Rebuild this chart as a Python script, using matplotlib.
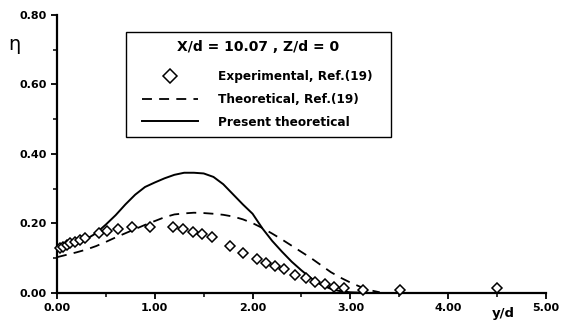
import matplotlib
matplotlib.use('Agg')
import matplotlib.pyplot as plt
from matplotlib.patches import Rectangle

# Experimental, Ref.(19)
exp_x = [0.03, 0.06, 0.10, 0.13, 0.18, 0.24, 0.29, 0.43, 0.51, 0.62, 0.77, 0.95,
         1.19, 1.29, 1.39, 1.48, 1.59, 1.77, 1.90, 2.05, 2.14, 2.23, 2.32, 2.43,
         2.55, 2.64, 2.74, 2.83, 2.93, 3.13, 3.51, 4.50]
exp_y = [0.130, 0.133, 0.138, 0.144, 0.148, 0.153, 0.158, 0.172, 0.178, 0.184, 0.189, 0.189,
         0.191, 0.184, 0.175, 0.170, 0.160, 0.135, 0.114, 0.097, 0.087, 0.078, 0.068, 0.052,
         0.042, 0.033, 0.025, 0.018, 0.014, 0.009, 0.009, 0.013]

# Theoretical, Ref.(19)
ref_x = [0.0, 0.1, 0.2, 0.3, 0.4, 0.5, 0.6, 0.7, 0.8, 0.9, 1.0, 1.1, 1.2, 1.3, 1.4,
         1.5, 1.6, 1.7, 1.8, 1.9, 2.0, 2.1, 2.2, 2.3, 2.4, 2.5, 2.6, 2.7, 2.8, 2.9,
         3.0, 3.1, 3.2, 3.3]
ref_y = [0.103, 0.110, 0.117, 0.125, 0.135, 0.147, 0.160, 0.172, 0.184, 0.196, 0.207,
         0.218, 0.226, 0.229, 0.231, 0.230, 0.228, 0.225, 0.220, 0.212, 0.201, 0.187,
         0.171, 0.154, 0.136, 0.118, 0.100, 0.080, 0.060, 0.044, 0.030, 0.018, 0.008, 0.002]

# Present theoretical
pres_x = [0.0, 0.1, 0.2, 0.3, 0.4, 0.5, 0.6, 0.7, 0.8, 0.9, 1.0, 1.1, 1.2, 1.3, 1.4,
          1.5, 1.6, 1.7, 1.8, 1.9, 2.0, 2.1, 2.2, 2.3, 2.4, 2.5, 2.6, 2.7, 2.8, 2.9,
          3.0, 3.2, 5.0]
pres_y = [0.124, 0.133, 0.143, 0.155, 0.172, 0.197, 0.224, 0.255, 0.283, 0.305, 0.318,
          0.330, 0.340, 0.346, 0.346, 0.344, 0.334, 0.313, 0.284, 0.255, 0.228, 0.186,
          0.150, 0.119, 0.090, 0.065, 0.042, 0.024, 0.012, 0.005, 0.002, 0.0, 0.0]

x_ticks = [0, 1, 2, 3, 4, 5]
x_ticklabels = ['0.00', '1.00', '2.00', '3.00', '4.00', '5.00']
y_ticks = [0.0, 0.2, 0.4, 0.6, 0.8]
y_ticklabels = ['0.00', '0.20', '0.40', '0.60', '0.80']

legend_title = 'X/d = 10.07 , Z/d = 0'
labels = ['Experimental, Ref.(19)', 'Theoretical, Ref.(19)', 'Present theoretical']

plt.rcParams['font.family'] = ['DejaVu Sans']

W, H = 571, 320
fig = plt.figure(figsize=(5.71, 3.2), dpi=100)
ax = fig.add_axes([0.0998, 0.0844, 0.8564, 0.8688])

h_exp, = ax.plot(exp_x, exp_y, linestyle='none', marker='D', markersize=4.6,
                 markerfacecolor='white', markeredgecolor='black', markeredgewidth=1.1,
                 clip_on=False, zorder=4)
h_ref, = ax.plot(ref_x, ref_y, color='black', linewidth=1.3, dashes=(5.5, 4), zorder=3)
h_pres, = ax.plot(pres_x, pres_y, color='black', linewidth=1.4, zorder=3)

ax.set_xlim(0, 5)
ax.set_ylim(0, 0.8)
for s in ['top', 'right']:
    ax.spines[s].set_visible(False)
for s in ['left', 'bottom']:
    ax.spines[s].set_linewidth(1.6)

ax.set_xticks(x_ticks)
ax.set_xticklabels(x_ticklabels)
ax.set_yticks(y_ticks)
ax.set_yticklabels(y_ticklabels)
ax.set_xticks([0.5, 1.5, 2.5, 3.5, 4.5], minor=True)
ax.set_yticks([0.1, 0.3, 0.5, 0.7], minor=True)
ax.tick_params(which='major', direction='out', length=4.5, width=1.3, labelsize=8, pad=3)
ax.tick_params(which='minor', direction='out', length=3, width=1.1)
for lab in ax.get_xticklabels() + ax.get_yticklabels():
    lab.set_fontweight('bold')

fig.text(14 / W, 1 - 44 / H, 'η', fontsize=14, ha='center', va='center')
fig.text(503 / W, 1 - 314 / H, 'y/d', fontsize=9.5, fontweight='bold', ha='center', va='center')

# legend box
bx0, bx1 = (126 - 57) / 489, (391 - 57) / 489
by1, by0 = (293 - 32) / 278, (293 - 137) / 278
ax.add_patch(Rectangle((bx0, by0), bx1 - bx0, by1 - by0, transform=ax.transAxes,
                       facecolor='white', edgecolor='black', linewidth=1.0, zorder=5,
                       clip_on=False))
fig.text(258 / W, 1 - 47 / H, legend_title, fontsize=10, fontweight='bold',
         ha='center', va='center', zorder=7)
leg = ax.legend([h_exp, h_ref, h_pres], labels,
                loc='center', bbox_to_anchor=(257.5 / W, 1 - 99.5 / H),
                bbox_transform=fig.transFigure,
                frameon=False, prop={'weight': 'bold', 'size': 8.7},
                handlelength=4.6, handletextpad=1.7, labelspacing=0.8, markerscale=1.6,
                borderpad=0)
leg.set_zorder(6)

fig.savefig('out.png', dpi=100)
